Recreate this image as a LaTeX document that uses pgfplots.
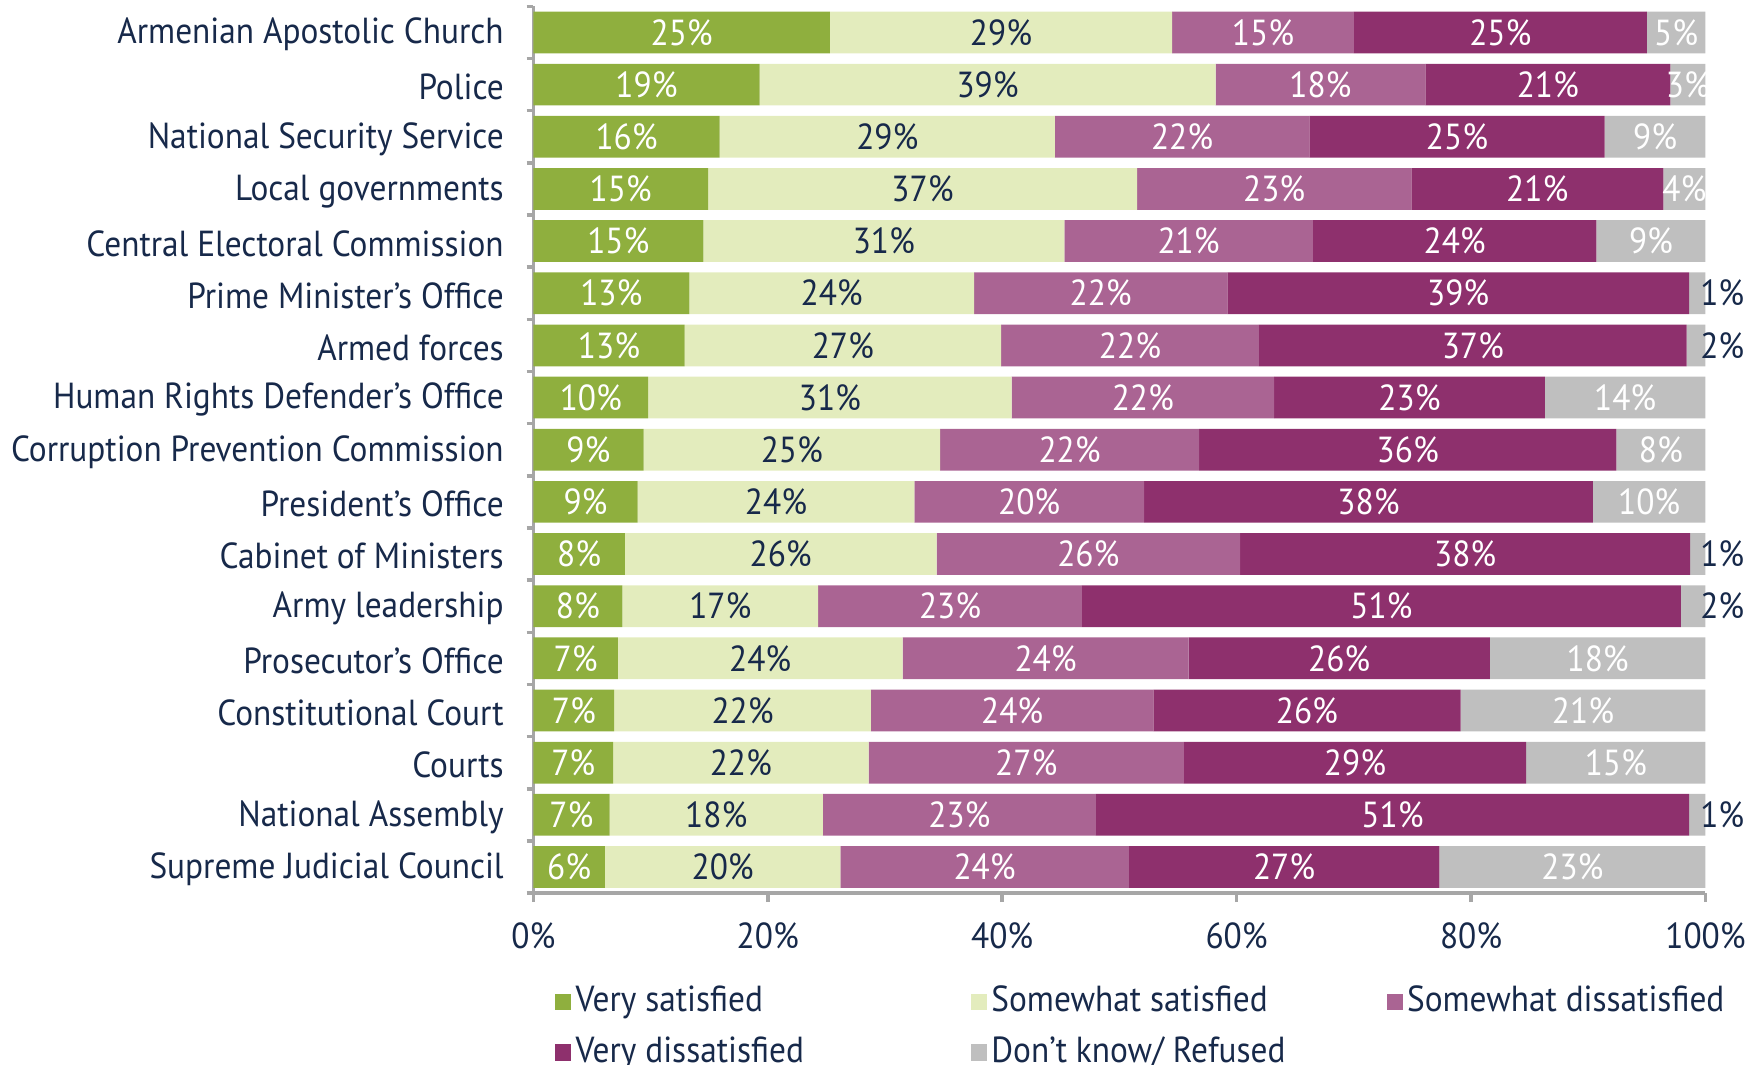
\documentclass[border=0pt]{standalone}
\usepackage{pgfplots}
\pgfplotsset{compat=1.18}
\usepackage{pgfplotstable}
\usepackage{fontspec}
\setmainfont{PT Sans}[FakeStretch=0.92]
\definecolor{vsat}{HTML}{8FAF3E}
\definecolor{ssat}{HTML}{E3ECBD}
\definecolor{sdis}{HTML}{AA6493}
\definecolor{vdis}{HTML}{8E306D}
\definecolor{dkc}{HTML}{BFBFBF}
\definecolor{navy}{HTML}{17294A}
\definecolor{axgray}{HTML}{A6A6A6}

\pgfplotstableread{
y vs ss sd vd dk lvs lss lsd lvd ldk out
16 25.3 29.2 15.5 25.0 5.0 25 29 15 25 5 0
15 19.3 38.9 17.9 20.9 3.0 19 39 18 21 3 0
14 15.9 28.6 21.7 25.2 8.6 16 29 22 25 9 0
13 14.9 36.6 23.4 21.5 3.6 15 37 23 21 4 0
12 14.5 30.8 21.2 24.2 9.3 15 31 21 24 9 0
11 13.3 24.3 21.6 39.4 1.4 13 24 22 39 1 1
10 12.9 27.0 22.0 36.5 1.6 13 27 22 37 2 1
9 9.8 31.0 22.4 23.1 13.7 10 31 22 23 14 0
8 9.4 25.3 22.1 35.6 7.6 9 25 22 36 8 0
7 8.9 23.6 19.6 38.3 9.6 9 24 20 38 10 0
6 7.8 26.6 25.9 38.4 1.3 8 26 26 38 1 1
5 7.6 16.7 22.5 51.1 2.1 8 17 23 51 2 1
4 7.2 24.3 24.4 25.7 18.4 7 24 24 26 18 0
3 6.9 21.9 24.1 26.2 20.9 7 22 24 26 21 0
2 6.8 21.8 26.9 29.2 15.3 7 22 27 29 15 0
1 6.5 18.2 23.3 50.6 1.4 7 18 23 51 1 1
0 6.1 20.1 24.6 26.5 22.7 6 20 24 27 23 0
}\datatable

\begin{document}
\fontsize{9.2}{11}\selectfont
\begin{tikzpicture}
\begin{axis}[
  at={(0,0)}, anchor=south west,
  xbar stacked,
  scale only axis,
  width=10.46cm, height=7.913cm,
  xmin=0, xmax=100,
  ymin=-0.5, ymax=16.5,
  bar width=0.8,
  axis x line*=bottom, axis y line*=left,
  axis line style={axgray, line width=0.9pt},
  tick align=outside,
  xtick={0,20,...,100},
  xticklabel={\pgfmathprintnumber{\tick}\%},
  xtick style={axgray, line width=0.9pt},
  major tick length=0.08cm,
  ytick={0,...,16},
  yticklabels={Supreme Judicial Council, National Assembly, Courts, Constitutional Court, Prosecutor’s Office, Army leadership, Cabinet of Ministers, President’s Office, Corruption Prevention Commission, Human Rights Defender’s Office, Armed forces, Prime Minister’s Office, Central Electoral Commission, Local governments, National Security Service, Police, Armenian Apostolic Church},
  ytick style={draw=none},
  extra y ticks={-0.5,0.5,...,16.5},
  extra y tick labels={},
  extra y tick style={ytick style={draw=axgray, line width=0.9pt}, major tick length=0.06cm},
  tick label style={text=navy},
  /pgf/number format/assume math mode=true,
  yticklabel style={xshift=-0.07cm, yshift=-0.02cm},
  xticklabel style={yshift=-0.07cm},
  legend columns=3,
  legend style={at={(0.0182,-0.0974)}, anchor=north west, draw=none, fill=none,
    inner sep=0pt, row sep=0.06cm, text=navy,
    nodes={inner sep=0.04cm, text height=0.24cm, text depth=0.07cm}},
  legend image code/.code={\draw[#1,draw=none] (0cm,-0.075cm) rectangle (0.14cm,0.075cm);},
  nodes near coords={\pgfmathprintnumber{\pgfplotspointmeta}\%},
]
\addplot+[fill=vsat, draw=none, point meta=\thisrow{lvs},
  every node near coord/.append style={text=white, anchor=center}]
  table[x=vs, y=y] {\datatable};
\addlegendentry{\makebox[3.49cm][l]{Very satisfied}}
\addplot+[fill=ssat, draw=none, point meta=\thisrow{lss},
  every node near coord/.append style={text=navy, anchor=center}]
  table[x=ss, y=y] {\datatable};
\addlegendentry{\makebox[3.49cm][l]{Somewhat satisfied}}
\addplot+[fill=sdis, draw=none, point meta=\thisrow{lsd},
  every node near coord/.append style={text=white, anchor=center}]
  table[x=sd, y=y] {\datatable};
\addlegendentry{\makebox[3.49cm][l]{Somewhat dissatisfied}}
\addplot+[fill=vdis, draw=none, point meta=\thisrow{lvd},
  every node near coord/.append style={text=white, anchor=center}]
  table[x=vd, y=y] {\datatable};
\addlegendentry{\makebox[3.49cm][l]{Very dissatisfied}}
\addplot+[fill=dkc, draw=none, point meta=\thisrow{ldk},
  visualization depends on={\thisrow{dk} \as \segval},
  visualization depends on={\thisrow{out} \as \outflag},
  nodes near coords={\ifdim\outflag pt>0.5pt\color{navy}\else\color{white}\fi\pgfmathprintnumber{\pgfplotspointmeta}\%},
  every node near coord/.append style={anchor=center, xshift={\outflag*(0.0523cm*\segval+0.15cm)}}]
  table[x=dk, y=y] {\datatable};
\addlegendentry{\makebox[3.49cm][l]{Don't know/ Refused}}
\end{axis}
\pgfresetboundingbox
\useasboundingbox (-4.76cm,-1.53cm) rectangle (10.92cm,7.97cm);
\end{tikzpicture}
\end{document}
